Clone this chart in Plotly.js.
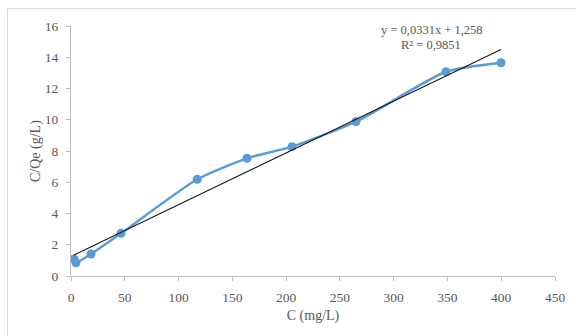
<!DOCTYPE html>
<html>
<head>
<meta charset="utf-8">
<script src="https://cdn.plot.ly/plotly-3.0.1.min.js"></script>
<style>html,body{margin:0;padding:0;background:#fff;}#chart{width:576px;height:336px;}</style>
</head>
<body>
<div id="chart"></div>
<script>
const cValues = [2.8, 4.6, 18.6, 46.5, 117.4, 163.6, 205.5, 265, 348.6, 399.8];
const cqeValues = [1.09, 0.85, 1.41, 2.73, 6.19, 7.53, 8.28, 9.88, 13.07, 13.65];
const trendSlope = 0.0331;
const trendIntercept = 1.258;
const equationText = "y = 0,0331x + 1,258";
const r2Text = "R² = 0,9851";
const xTitle = "C (mg/L)";
const yTitle = "C/Qe (g/L)";
const xTicks = [0, 50, 100, 150, 200, 250, 300, 350, 400, 450];
const yTicks = [0, 2, 4, 6, 8, 10, 12, 14, 16];

const xMin = Math.min(...cValues), xMax = Math.max(...cValues);
const trendX = [xMin, xMax];
const trendY = trendX.map(x => trendSlope * x + trendIntercept);

const font = "'Liberation Serif', 'Times New Roman', serif";
const data = [
  {x: cValues, y: cqeValues, type: 'scatter', mode: 'lines+markers',
   line: {color: '#5B9BD5', width: 2.5, shape: 'spline', smoothing: 0.6},
   marker: {color: '#5B9BD5', size: 9}, hoverinfo: 'none'},
  {x: trendX, y: trendY, type: 'scatter', mode: 'lines',
   line: {color: '#1a1a1a', width: 1.1}, hoverinfo: 'none'}
];
const layout = {
  width: 576, height: 336,
  margin: {l: 71, r: 21, t: 26, b: 60},
  paper_bgcolor: '#fff', plot_bgcolor: '#fff',
  showlegend: false,
  font: {family: font, color: '#595959', size: 13.5},
  xaxis: {range: [0, 450], tickvals: xTicks, ticktext: xTicks.map(String),
    showgrid: false, zeroline: false, showline: true, linecolor: '#BFBFBF', linewidth: 1,
    ticks: 'outside', ticklen: 4, tickcolor: '#BFBFBF', ticklabelstandoff: 5,
    tickfont: {family: font, size: 13.5, color: '#595959'},
    title: {text: xTitle, font: {family: font, size: 14, color: '#595959'}, standoff: 5}},
  yaxis: {range: [0, 16], tickvals: yTicks, ticktext: yTicks.map(String),
    showgrid: false, zeroline: false, showline: true, linecolor: '#BFBFBF', linewidth: 1,
    ticks: 'outside', ticklen: 4, tickcolor: '#BFBFBF', ticklabelstandoff: 5,
    tickfont: {family: font, size: 13.5, color: '#595959'}},
  annotations: [
    {xref: 'paper', yref: 'paper', x: (36 - 71) / 484, y: 0.5, text: yTitle, textangle: -90,
     showarrow: false, xanchor: 'center', yanchor: 'middle', font: {family: font, size: 14, color: '#595959'}},
    {xref: 'paper', yref: 'paper', x: (432 - 71) / 484, y: (276 - 30) / 250, text: equationText,
     showarrow: false, xanchor: 'center', yanchor: 'middle', font: {family: font, size: 12.5, color: '#595959'}},
    {xref: 'paper', yref: 'paper', x: (431 - 71) / 484, y: (276 - 45) / 250, text: r2Text,
     showarrow: false, xanchor: 'center', yanchor: 'middle', font: {family: font, size: 12.5, color: '#595959'}}
  ],
  shapes: [
    {type: 'line', xref: 'paper', yref: 'paper', x0: (7.5 - 71) / 484, x1: (7.5 - 71) / 484,
     y0: (276 - 8.5) / 250, y1: (276 - 340) / 250, line: {color: '#D9D9D9', width: 1}},
    {type: 'line', xref: 'paper', yref: 'paper', x0: (7.5 - 71) / 484, x1: (580 - 71) / 484,
     y0: (276 - 8.5) / 250, y1: (276 - 8.5) / 250, line: {color: '#D9D9D9', width: 1}}
  ]
};
Plotly.newPlot('chart', data, layout, {staticPlot: true, displayModeBar: false});
</script>
</body>
</html>
